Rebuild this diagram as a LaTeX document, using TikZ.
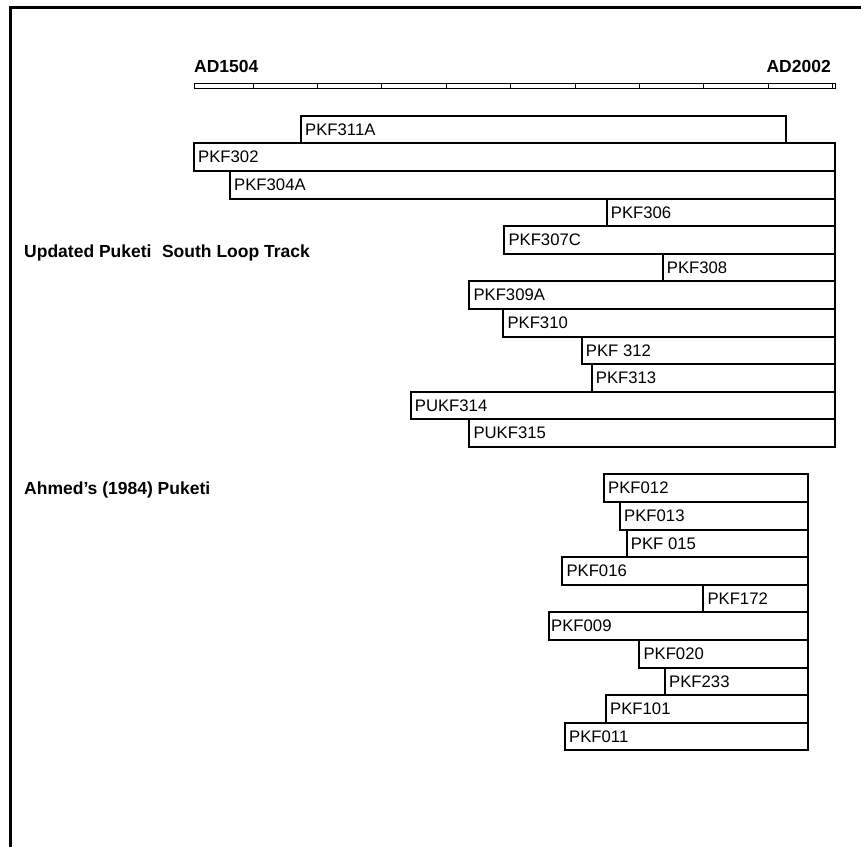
\documentclass[tikz,border=0pt]{standalone}
\usepackage{fontspec}
\setmainfont{Liberation Sans}
\usetikzlibrary{positioning}

\begin{document}
\begin{tikzpicture}[x=1pt,y=-1pt,
  core/.style={draw=black,line width=2pt},
  lbl/.style={anchor=west,inner sep=0pt,font=\fontsize{16.7}{18}\selectfont},
  head/.style={inner sep=0pt,font=\fontsize{17.5}{20}\selectfont\bfseries},
  scale bar/.style={draw=black,line width=0.9pt}]
\useasboundingbox (0,0) rectangle (861,847);
\draw[line width=2.7pt] (861,7.7) -- (10.5,7.7) -- (10.5,847);

% time axis
\draw[scale bar] (194,83) rectangle (835,88);
\foreach \yr in {1550,1600,...,2000}
  \draw[scale bar] ({194+(\yr-1504)*1.2871},83) -- ({194+(\yr-1504)*1.2871},88);
\node[head,anchor=base west] (start) at (194,72) {AD1504};
\node[head,anchor=base east] (end) at (831,72) {AD2002};

\node[head,anchor=base west] (south) at (24,257) {Updated Puketi\hspace{0.6em}South Loop Track};
\node[head,anchor=base west] (ahmed) at (24,494.3) {Ahmed’s (1984) Puketi};

% updated south loop track
\draw[core] (301,115.7) rectangle (786,143.3);
\node[lbl] (pkf311a) at (305,129.5) {PKF311A};
\draw[core] (194,143.3) rectangle (834.5,170.9);
\node[lbl] (pkf302) at (198,157.1) {PKF302};
\draw[core] (230,170.9) rectangle (834.5,198.5);
\node[lbl] (pkf304a) at (234,184.7) {PKF304A};
\draw[core] (606.7,198.5) rectangle (834.5,226.1);
\node[lbl] (pkf306) at (610.7,212.3) {PKF306};
\draw[core] (504.3,226.1) rectangle (834.5,253.7);
\node[lbl] (pkf307c) at (508.3,239.9) {PKF307C};
\draw[core] (662.7,253.7) rectangle (834.5,281.3);
\node[lbl] (pkf308) at (666.7,267.5) {PKF308};
\draw[core] (469.3,281.3) rectangle (834.5,308.9);
\node[lbl] (pkf309a) at (473.3,295.1) {PKF309A};
\draw[core] (503.3,308.9) rectangle (834.5,336.5);
\node[lbl] (pkf310) at (507.3,322.7) {PKF310};
\draw[core] (581.7,336.5) rectangle (834.5,364.1);
\node[lbl] (pkf312) at (585.7,350.3) {PKF 312};
\draw[core] (591.7,364.1) rectangle (834.5,391.7);
\node[lbl] (pkf313) at (595.7,377.9) {PKF313};
\draw[core] (410.7,391.7) rectangle (834.5,419.3);
\node[lbl] (pukf314) at (414.7,405.5) {PUKF314};
\draw[core] (469.3,419.3) rectangle (834.5,446.9);
\node[lbl] (pukf315) at (473.3,433.1) {PUKF315};

% ahmed 1984
\draw[core] (604,474.3) rectangle (807.5,501.9);
\node[lbl] (pkf012) at (608,488.1) {PKF012};
\draw[core] (620,501.9) rectangle (807.5,529.5);
\node[lbl] (pkf013) at (624,515.7) {PKF013};
\draw[core] (626.7,529.5) rectangle (807.5,557.1);
\node[lbl] (pkf015) at (630.7,543.3) {PKF 015};
\draw[core] (562.3,557.1) rectangle (807.5,584.7);
\node[lbl] (pkf016) at (566.3,570.9) {PKF016};
\draw[core] (703.3,584.7) rectangle (807.5,612.3);
\node[lbl] (pkf172) at (707.3,598.5) {PKF172};
\draw[core] (549,612.3) rectangle (807.5,639.9);
\node[lbl] (pkf009) at (551,626.1) {PKF009};
\draw[core] (639.3,639.9) rectangle (807.5,667.5);
\node[lbl] (pkf020) at (643.3,653.7) {PKF020};
\draw[core] (665,667.5) rectangle (807.5,695.1);
\node[lbl] (pkf233) at (669,681.3) {PKF233};
\draw[core] (606,695.1) rectangle (807.5,722.7);
\node[lbl] (pkf101) at (610,708.9) {PKF101};
\draw[core] (565,722.7) rectangle (807.5,750.3);
\node[lbl] (pkf011) at (569,736.5) {PKF011};

\end{tikzpicture}
\end{document}
